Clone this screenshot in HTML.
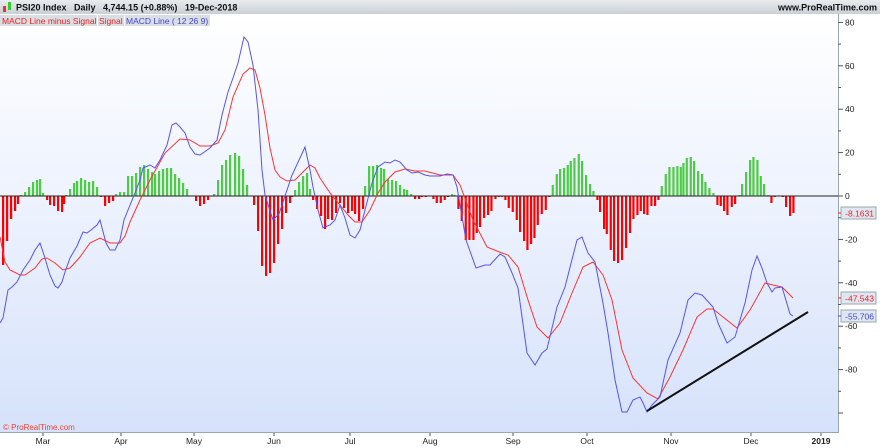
<!DOCTYPE html>
<html><head><meta charset="utf-8"><style>
body{margin:0;width:880px;height:448px;overflow:hidden;background:#fff;font-family:"Liberation Sans",sans-serif}
svg{display:block}
</style></head><body>
<svg width="880" height="448" xmlns="http://www.w3.org/2000/svg" font-family="Liberation Sans, sans-serif">
<defs>
<linearGradient id="bg" x1="0" y1="0" x2="0" y2="1"><stop offset="0" stop-color="#ffffff"/><stop offset="1" stop-color="#d6e2fb"/></linearGradient>
<linearGradient id="hd" x1="0" y1="0" x2="0" y2="1"><stop offset="0" stop-color="#e8ecef"/><stop offset="1" stop-color="#c9d0d6"/></linearGradient>
</defs>
<rect x="0" y="14" width="838" height="419" fill="url(#bg)"/>
<rect x="0" y="0" width="880" height="14" fill="url(#hd)"/>
<rect x="3" y="6" width="3" height="6" fill="#e33"/><rect x="8" y="2" width="3" height="8" fill="#3c3"/>
<text x="16" y="10.5" font-size="9" font-weight="bold" fill="#111">PSI20 Index &#160; Daily &#160; 4,744.15 (+0.88%) &#160; 19-Dec-2018</text>
<text x="877" y="10.5" font-size="9" font-weight="bold" fill="#111" text-anchor="end">www.ProRealTime.com</text>
<rect x="0" y="15" width="97" height="11" fill="#d9dee3"/><rect x="98" y="15" width="26" height="11" fill="#d9dee3"/><rect x="125" y="15" width="85" height="11" fill="#d9dee3"/>
<text x="2" y="24" font-size="8.5" fill="#e22">MACD Line minus Signal</text>
<text x="99" y="24" font-size="8.5" fill="#e22">Signal</text>
<text x="126" y="24" font-size="8.5" fill="#44d">MACD Line ( 12 26 9)</text>
<g id="bars"></g>
<line x1="0" y1="196" x2="838" y2="196" stroke="#222" stroke-width="1"/>
<polyline id="sig" fill="none" stroke="#f33" stroke-width="1"/>
<polyline id="mac" fill="none" stroke="#55e" stroke-width="1"/>
<line x1="647" y1="411" x2="808" y2="312" stroke="#111" stroke-width="2"/>
<line x1="838.5" y1="14" x2="838.5" y2="433" stroke="#9aa7b2"/>
<line x1="0" y1="432.5" x2="838" y2="432.5" stroke="#9aa7b2"/>
<g id="yax" font-size="8.5" fill="#222"></g>
<g id="xax" font-size="8.5" fill="#222"></g>
<rect x="841" y="207" width="35" height="12" fill="#dde6f2" stroke="#9aa"/><text x="874" y="216.5" font-size="8.5" fill="#e22" text-anchor="end">-8.1631</text>
<rect x="841" y="292" width="35" height="12" fill="#dde6f2" stroke="#9aa"/><text x="874" y="301.5" font-size="8.5" fill="#e22" text-anchor="end">-47.543</text>
<rect x="841" y="310" width="35" height="12" fill="#dde6f2" stroke="#9aa"/><text x="874" y="319.5" font-size="8.5" fill="#44d" text-anchor="end">-55.706</text>
<line x1="838" y1="213" x2="841" y2="213" stroke="#e22"/><line x1="838" y1="298" x2="841" y2="298" stroke="#e22"/><line x1="838" y1="316" x2="841" y2="316" stroke="#44d"/>
<text x="3" y="430" font-size="8" fill="#e43">© ProRealTime.com</text>
</svg>
<script>
var NS="http://www.w3.org/2000/svg";
function el(t,a,p){var e=document.createElementNS(NS,t);for(var k in a)e.setAttribute(k,a[k]);if(p)p.appendChild(e);return e;}
var A=[[3,-69],[7,-45],[11,-23],[15,-15],[18,-8],[21,1],[25,4],[29,9],[33,14],[37,16],[40,17],[43,3],[47,-4],[50,-9],[54,-10],[58,-15],[62,-16],[64,-8],[66,1],[70,7],[74,13],[77,15],[81,18],[85,16],[89,14],[93,15],[97,9],[101,-1],[105,-10],[109,-7],[113,-5],[116,2],[120,4],[124,4],[128,20],[132,20],[136,23],[140,29],[144,31],[148,27],[152,24],[155,22],[159,25],[163,27],[167,28],[171,28],[175,22],[179,18],[183,13],[187,7],[196,-5],[200,-10],[204,-8],[208,-4],[214,2],[218,16],[222,31],[226,36],[230,41],[235,43],[239,40],[243,27],[247,11],[254,-9],[258,-35],[262,-70],[266,-80],[270,-77],[274,-67],[278,-48],[282,-33],[286,-17],[290,-7],[292,-1],[295,6],[299,14],[303,20],[307,23],[310,7],[313,-4],[317,-13],[321,-20],[325,-33],[328,-23],[332,-24],[336,-17],[340,-7],[344,-12],[348,-17],[352,-15],[355,-18],[359,-25],[363,-13],[365,10],[369,30],[373,30],[377,31],[381,28],[384,27],[388,17],[392,16],[396,15],[400,11],[404,7],[407,6],[411,2],[415,-3],[419,-3]];
var B=[[5,-1],[17,-1],[40,-3],[50,-7],[62,-7],[74,-4],[84,-1],[96,2],[104,1],[115,-13],[125,-25],[137,-44],[148,-44],[160,-44],[170,-37],[180,-31],[192,-22],[204,-19],[214,-15],[226,-3],[236,-1],[245,-1],[256,-4],[266,-12],[278,-16],[290,-24],[300,-36],[312,-45],[322,-54],[333,-48],[343,-42],[353,-29],[365,-18],[377,-14],[388,-1],[398,11],[410,22],[420,27],[432,28],[443,31],[452,35],[463,38],[476,42],[486,35],[498,21],[510,12],[520,5],[532,-4],[540,-16],[552,-33],[560,-38],[572,-54],[582,-65],[594,-67],[606,-64],[618,-52],[630,-37],[640,-23],[652,-19],[662,-15],[672,-18],[682,-19],[694,-10],[705,-10],[715,-4],[725,10],[737,22],[748,29],[760,29],[772,30],[782,29],[790,33],[800,38],[812,39],[822,35],[834,25],[846,22],[856,14],[868,8],[880,3],[892,-9],[902,-10],[912,-15],[922,-19],[935,-11],[945,-8],[958,1],[966,12],[978,24],[990,36],[1000,39],[1012,36],[1022,20],[1032,12],[1044,1],[1054,-7],[1064,-1],[1088,-1],[1098,-11],[1110,-20],[1120,-17]];
B.forEach(function(b){A.push([420+b[0]/3,b[1]]);});
var g=document.getElementById("bars");
A.forEach(function(b){var h=b[1];if(h>=0)el("rect",{x:b[0]-1,y:196-h,width:2.2,height:h,fill:"#4ccc44"},g);else el("rect",{x:b[0]-1,y:196,width:2.2,height:-h,fill:"#f00"},g);});
var M=[[0,323],[3,318],[8,290],[12,287],[17,282],[23,270],[30,260],[35,250],[40,243],[44,255],[50,275],[55,286],[58,288],[62,282],[65,272],[70,258],[77,246],[83,232],[87,233],[91,230],[97,225],[100,220],[106,243],[110,250],[115,250],[120,240],[124,220],[128,210],[135,193],[140,180],[143,168],[150,165],[155,168],[160,160],[167,145],[172,125],[176,123],[180,127],[185,133],[190,147],[195,154],[200,155],[210,148],[217,140],[222,115],[228,92],[233,78],[238,63],[244,37],[248,42],[253,65],[258,110],[262,170],[265,195],[273,220],[279,214],[285,196],[292,175],[300,158],[305,147],[310,170],[313,187],[318,210],[323,228],[330,225],[335,220],[340,205],[345,218],[350,235],[355,238],[360,230],[365,210],[372,183],[378,167],[385,162],[390,163],[395,160],[400,162],[407,170],[412,173],[418,172],[425,175],[430,176],[440,176],[447,174],[453,175],[457,187],[466,240],[476,268],[485,265],[490,265],[500,254],[505,257],[512,273],[518,288],[527,353],[535,365],[542,353],[547,349],[557,307],[565,287],[577,240],[582,237],[588,253],[595,262],[603,303],[608,333],[615,380],[622,412],[627,412],[633,400],[640,397],[643,403],[647,412],[652,405],[660,397],[668,360],[680,333],[688,300],[695,293],[702,295],[713,307],[718,323],[727,343],[735,337],[745,303],[752,270],[757,256],[762,268],[767,283],[772,292],[775,288],[782,287],[785,297],[790,314],[793,316]];
var S=[[0,237],[5,262],[10,270],[20,275],[25,275],[35,268],[42,259],[47,258],[55,263],[63,270],[70,268],[80,257],[90,243],[100,238],[110,243],[120,243],[125,236],[130,222],[140,200],[150,180],[165,153],[180,139],[190,140],[200,146],[210,146],[218,143],[225,130],[233,97],[243,74],[250,68],[255,70],[260,88],[265,115],[270,148],[275,170],[280,177],[287,181],[295,180],[300,175],[305,170],[310,165],[315,168],[320,178],[330,193],[340,205],[348,215],[355,222],[362,222],[370,210],[378,193],[385,182],[395,172],[405,169],[415,171],[425,171],[440,175],[453,175],[460,185],[473,220],[487,247],[502,253],[508,255],[518,267],[528,300],[537,327],[548,338],[560,323],[572,293],[583,267],[593,262],[603,275],[612,300],[622,350],[633,378],[647,393],[658,399],[670,377],[683,350],[697,317],[707,309],[713,309],[723,317],[737,328],[750,310],[765,283],[773,285],[782,287],[793,298]];
document.getElementById("mac").setAttribute("points",M.join(" "));
document.getElementById("sig").setAttribute("points",S.join(" "));
var y=document.getElementById("yax");
for(var v=80;v>=-100;v-=10){var py=196-v*2.17;if(py<16||py>430)continue;var major=v%20==0;el("line",{x1:838,y1:py,x2:major?843:841,y2:py,stroke:"#555"},y);if(major&&v>-100){var t=el("text",{x:845,y:py+3},y);t.textContent=v;}}
var x=document.getElementById("xax");
[["Mar",43],["Apr",121],["May",194],["Jun",274],["Jul",350],["Aug",430],["Sep",513],["Oct",587],["Nov",671],["Dec",751],["2019",821]].forEach(function(m){el("line",{x1:m[1],y1:433,x2:m[1],y2:436,stroke:"#555"},x);var t=el("text",{x:m[1],y:444,"text-anchor":"middle"},x);t.textContent=m[0];if(m[0]=="2019")t.setAttribute("font-weight","bold");});
</script>
</body></html>
